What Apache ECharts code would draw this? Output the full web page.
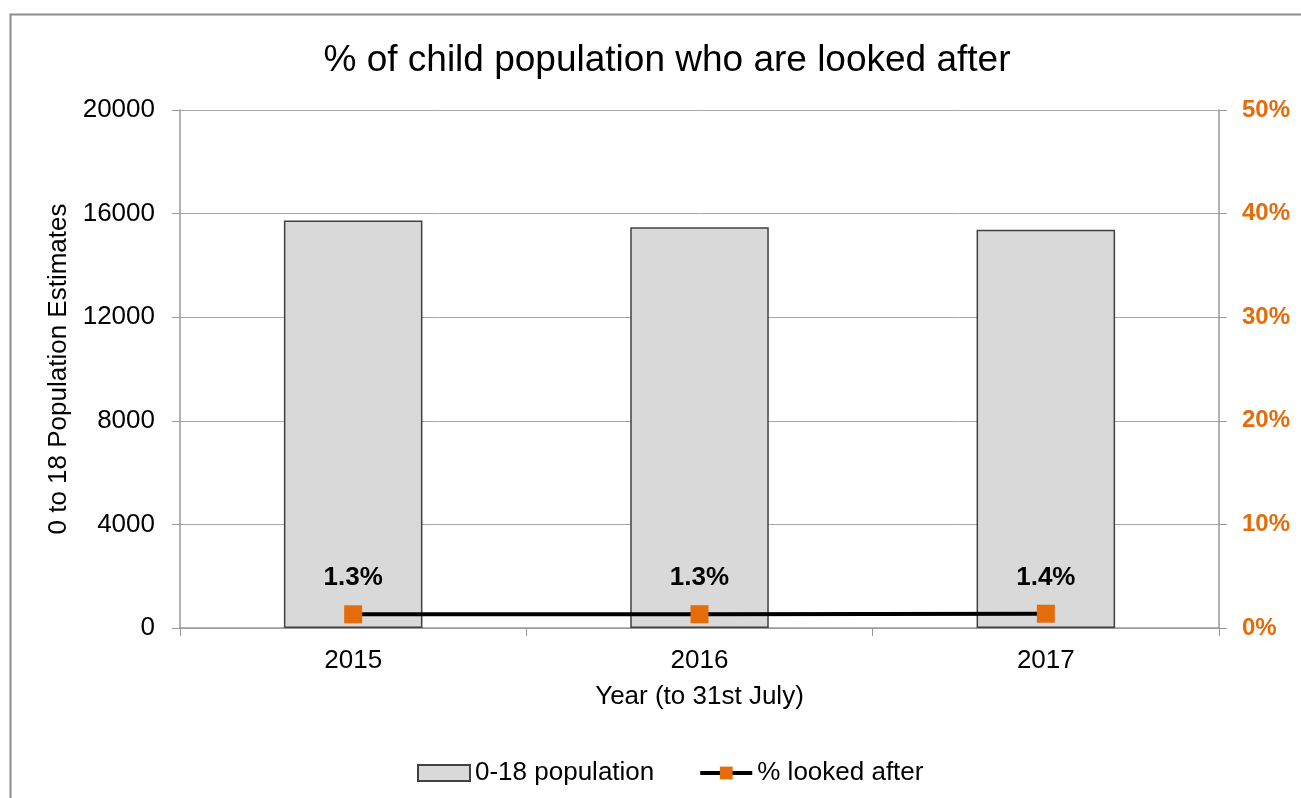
<!DOCTYPE html>
<html><head><meta charset="utf-8">
<script src="https://cdn.jsdelivr.net/npm/echarts@6/dist/echarts.min.js"></script>
<style>html,body{margin:0;padding:0;background:#fff}#c{width:1301px;height:798px}</style>
</head><body><div id="c"></div>
<script>
const years = ['2015', '2016', '2017'];
const population = [15730, 15470, 15380];
const lookedAfterPct = [1.32, 1.33, 1.38];
const leftTicks = [0, 4000, 8000, 12000, 16000, 20000];
const rightTicks = [0, 10, 20, 30, 40, 50];

const chart = echarts.init(document.getElementById('c'));
const F = 'Liberation Sans, Arial, sans-serif';
chart.setOption({
  animation: false,
  graphic: [{type:'rect', shape:{x:10.5,y:14.5,width:1300,height:800}, style:{fill:'none',stroke:'#8c8c8c',lineWidth:2}}],
  title: {text:'% of child population who are looked after', left:662, top:37, textAlign:'center',
    textStyle:{fontFamily:F, fontSize:37, fontWeight:'normal', color:'#000'}},
  legend: {top:755, left:412, itemGap:44, itemWidth:52, itemHeight:16,
    textStyle:{fontFamily:F, fontSize:26, color:'#000'},
    data:[{name:'0-18 population', icon:'rect'},
          {name:'% looked after', itemStyle:{color:'#E46C0A'}, lineStyle:{width:4, color:'#000'}}]},
  grid: {left:180, right:82, top:110, bottom:170},
  xAxis: {type:'category', data:years, name:'Year (to 31st July)', nameLocation:'middle', nameGap:56,
    nameTextStyle:{fontFamily:F, fontSize:26, color:'#000'},
    axisLine:{lineStyle:{color:'#999', width:1.5}},
    axisTick:{show:true, length:8, lineStyle:{color:'#999'}},
    axisLabel:{fontFamily:F, fontSize:26, color:'#000', margin:20}},
  yAxis: [{type:'value', min:0, max:20000, interval:4000, name:'0 to 18 Population Estimates',
    nameLocation:'middle', nameGap:105, nameTextStyle:{fontFamily:F, fontSize:26, color:'#000'},
    axisLine:{show:true, lineStyle:{color:'#999', width:1.5}},
    axisTick:{show:true, length:8, lineStyle:{color:'#999'}},
    axisLabel:{fontFamily:F, fontSize:26, color:'#000', margin:25, formatter:v=>leftTicks.includes(v)?String(v):''},
    splitLine:{lineStyle:{color:'#a6a6a6', width:1}}},
   {type:'value', min:0, max:50, interval:10,
    axisLine:{show:true, lineStyle:{color:'#999', width:1.5}},
    axisTick:{show:true, length:8, lineStyle:{color:'#999'}},
    axisLabel:{fontFamily:F, fontSize:24, fontWeight:'bold', color:'#E46C0A', margin:23, formatter:v=>rightTicks.includes(v)?v+'%':''},
    splitLine:{show:false}}],
  series: [
    {name:'0-18 population', type:'bar', data:population, barWidth:'40%',
     itemStyle:{color:'#D9D9D9', borderColor:'#404040', borderWidth:1.5}},
    {name:'% looked after', type:'line', yAxisIndex:1, data:lookedAfterPct,
     symbol:'rect', symbolSize:18, lineStyle:{color:'#000', width:4},
     itemStyle:{color:'#E46C0A', borderWidth:0},
     label:{show:true, position:'top', distance:14, fontFamily:F, fontSize:26, fontWeight:'bold', color:'#000',
       formatter:p=>p.value.toFixed(1)+'%'}}
  ]
});
</script></body></html>
